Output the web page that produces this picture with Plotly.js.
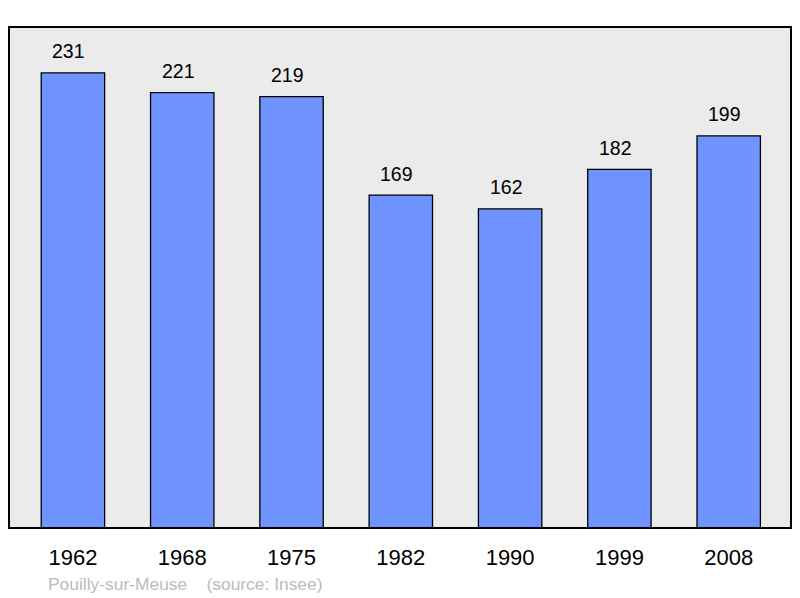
<!DOCTYPE html>
<html><head><meta charset="utf-8">
<script src="https://cdn.plot.ly/plotly-3.0.1.min.js"></script>
<style>html,body{margin:0;padding:0;background:#fff}#chart{width:800px;height:598px}</style>
</head><body><div id="chart"></div>
<script>
const years = ["1962","1968","1975","1982","1990","1999","2008"];
const population = [231,221,219,169,162,182,199];
const footerText = "Pouilly-sur-Meuse&nbsp;&nbsp;&nbsp;&nbsp;(source: Insee)";

const FONT = "Liberation Sans, Arial, sans-serif";
const idx = years.map((_, i) => i);
const trace = {
  type: "bar",
  x: idx,
  y: population,
  width: 0.58,
  marker: {color: "#7094ff", line: {color: "#000", width: 1.3}},
  hoverinfo: "none"
};
const annotations = idx.map(i => ({
  x: i, y: population[i], xref: "x", yref: "y",
  text: String(population[i]), showarrow: false,
  yanchor: "middle", yshift: 21.5, xshift: -4,
  font: {family: FONT, size: 19.5, color: "#000"}
}));
annotations.push({
  xref: "paper", yref: "paper", x: 0.047, y: -0.1117, xanchor: "left", yanchor: "middle",
  text: footerText, showarrow: false,
  font: {family: FONT, size: 17.4, color: "#bbbbbb"}
});
const layout = {
  width: 800, height: 598,
  margin: {l: 9, r: 9, t: 27, b: 70},
  paper_bgcolor: "#fff", plot_bgcolor: "#ebebeb",
  showlegend: false,
  xaxis: {range: [-0.585, 6.57], showgrid: false, zeroline: false,
    showline: false, ticks: "", ticklen: 0,
    tickmode: "array", tickvals: idx, ticktext: years,
    ticklabelstandoff: 14,
    tickfont: {family: FONT, size: 22, color: "#000"}},
  yaxis: {range: [0, 254.3], showgrid: false, zeroline: false, showticklabels: false, showline: false},
  annotations: annotations,
  shapes: [{type: "rect", xref: "paper", yref: "paper", x0: 0, x1: 1, y0: 0, y1: 1,
    line: {color: "#000", width: 2}, layer: "above"}]
};
Plotly.newPlot("chart", [trace], layout, {staticPlot: true, displayModeBar: false});
</script></body></html>
